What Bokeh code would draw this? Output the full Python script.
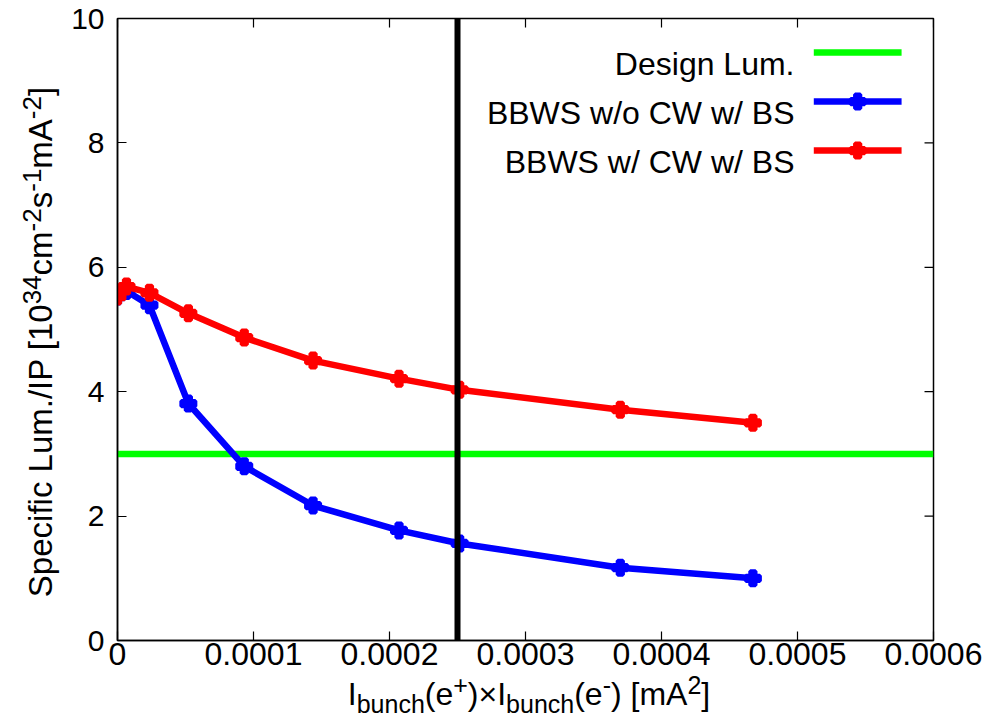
import html as _html
from bokeh.plotting import figure
from bokeh.models import Range1d, LinearAxis, FixedTicker, Span, Label, Div
from bokeh.layouts import row, column
from bokeh.embed import file_html
from bokeh.resources import INLINE

# ---------------- data ----------------
x_bunch = [0.0, 0.0000066, 0.0000235, 0.0000521, 0.0000932, 0.0001438,
           0.000207, 0.0002516, 0.0003697, 0.0004672]
lum_wo_cw = [5.53, 5.62, 5.39, 3.81, 2.80, 2.17, 1.77, 1.56, 1.17, 1.00]
lum_w_cw = [5.53, 5.69, 5.59, 5.26, 4.87, 4.50, 4.21, 4.03, 3.71, 3.50]
design_lum = 3.0
vline_x = 0.00025

x_ticks = [0.0, 0.0001, 0.0002, 0.0003, 0.0004, 0.0005, 0.0006]
x_tick_labels = ["0", "0.0001", "0.0002", "0.0003", "0.0004", "0.0005", "0.0006"]
y_ticks = [0, 2, 4, 6, 8, 10]
legend_labels = ["Design Lum.", "BBWS w/o CW w/ BS", "BBWS w/ CW w/ BS"]
legend_colors = ["#00ff00", "#0000ff", "#ff0000"]
legend_markers = [False, True, True]

xlabel_runs = [("I", "n"), ("bunch", "sub"), ("(e", "n"), ("+", "sup"),
               (")\u00d7I", "n"), ("bunch", "sub"), ("(e", "n"), ("-", "sup"),
               (") [mA", "n"), ("2", "sup"), ("]", "n")]
ylabel_runs = [("Specific Lum./IP [10", "n"), ("34", "sup"), ("cm", "n"),
               ("-2", "sup"), ("s", "n"), ("-1", "sup"), ("mA", "n"),
               ("-2", "sup"), ("]", "n")]

FONT = "Liberation Sans"
X0, X1, Y0, Y1 = 0.0, 0.0006, 0.0, 10.0
FW, FH = 818, 622
YDIV_W = 58
P_W, P_H = 918, 682
XDIV_H = 30

p = figure(width=P_W, height=P_H, output_backend="svg",
           toolbar_location=None, x_range=Range1d(X0, X1),
           y_range=Range1d(Y0, Y1), x_axis_location=None, y_axis_location=None,
           min_border_left=47, min_border_right=53, min_border_top=18,
           min_border_bottom=42)
p.xgrid.visible = False
p.ygrid.visible = False
p.outline_line_color = "black"
p.outline_line_width = 1.5
p.background_fill_color = "white"
p.border_fill_color = "white"


def style_axis(ax, ticks, size, standoff):
    ax.ticker = FixedTicker(ticks=ticks)
    ax.major_tick_in = 9
    ax.major_tick_out = 0
    ax.minor_tick_in = 0
    ax.minor_tick_out = 0
    ax.axis_line_color = "black"
    ax.axis_line_width = 1.5
    ax.major_tick_line_color = "black"
    ax.major_tick_line_width = 1.2
    ax.major_label_text_font = FONT
    ax.major_label_text_font_size = size
    ax.major_label_text_color = "black"
    ax.major_label_standoff = standoff


xb = LinearAxis()
style_axis(xb, x_ticks, "32px", 2)
xb.major_label_overrides = {t: l for t, l in zip(x_ticks, x_tick_labels)}
p.add_layout(xb, "below")
yl = LinearAxis()
style_axis(yl, y_ticks, "30px", 13)
p.add_layout(yl, "left")

# mirrored inward ticks on top and right edges (9 px long)
tick_dy = 9 / FH * (Y1 - Y0)
tick_dx = 9 / FW * (X1 - X0)
p.segment(x0=x_ticks, y0=[Y1] * len(x_ticks), x1=x_ticks,
          y1=[Y1 - tick_dy] * len(x_ticks), line_color="black", line_width=1.2)
p.segment(x0=[X1] * len(y_ticks), y0=y_ticks, x1=[X1 - tick_dx] * len(y_ticks),
          y1=y_ticks, line_color="black", line_width=1.2)

# ---------------- marks ----------------
p.line([X0, X1], [design_lum, design_lum], line_color="#00ff00", line_width=6.5)
p.add_layout(Span(location=vline_x, dimension="height", line_color="black",
                  line_width=6))
p.line(x_bunch, lum_wo_cw, line_color="#0000ff", line_width=6.5)
p.scatter(x_bunch, lum_wo_cw, marker="plus", size=14, line_color="#0000ff",
          fill_color="#0000ff", line_width=4)
p.line(x_bunch, lum_w_cw, line_color="#ff0000", line_width=6.5)
p.scatter(x_bunch, lum_w_cw, marker="plus", size=14, line_color="#ff0000",
          fill_color="#ff0000", line_width=4)

# ---------------- legend (key on the right of its text) ----------------
def fx(px):
    return X0 + px / FW * (X1 - X0)


def fy(py_from_top):
    return Y1 - py_from_top / FH * (Y1 - Y0)


for i, (lab, col, mk) in enumerate(zip(legend_labels, legend_colors, legend_markers)):
    ry = 34 + 49 * i
    p.line([fx(698), fx(786)], [fy(ry), fy(ry)], line_color=col, line_width=6.5)
    if mk:
        p.scatter([fx(742)], [fy(ry)], marker="plus", size=14, line_color=col,
                  fill_color=col, line_width=4)
    p.add_layout(Label(x=677, y=FH - ry - 11, x_units="screen", y_units="screen",
                       text=lab, text_font=FONT, text_font_size="32px",
                       text_align="right", text_baseline="alphabetic",
                       text_color="black"))

# ---------------- axis titles (HTML, with sub/superscripts) ----------------
def runs_html(runs, sub_px, sub_drop):
    out = []
    for t, k in runs:
        t = _html.escape(t)
        if k == "n":
            out.append(t)
        elif k == "sup":
            out.append(f'<span style="position:relative;top:-11px;font-size:{sub_px}px;">{t}</span>')
        else:
            out.append(f'<span style="position:relative;top:{sub_drop}px;font-size:{sub_px}px;">{t}</span>')
    return "".join(out)


def txt_style(px):
    return (f"font-family:'{FONT}';font-size:{px}px;line-height:30px;color:black;"
            "white-space:nowrap;")


VIS = [":host { overflow: visible !important; } div { overflow: visible !important; }"]

frame_cx = 47 + FW / 2          # frame centre inside the plot canvas
xdiv = Div(width=P_W, height=XDIV_H, styles={"overflow": "visible"}, stylesheets=VIS,
           text=(f'<div style="position:relative;width:{P_W}px;height:{XDIV_H}px;">'
                 f'<div style="position:absolute;left:{frame_cx}px;top:-8px;'
                 f'transform:translateX(-50%);{txt_style(32)}">'
                 f'{runs_html(xlabel_runs, 25, 8)}</div></div>'))

ydiv_h = P_H + XDIV_H
ydiv = Div(width=YDIV_W, height=ydiv_h, styles={"overflow": "visible"}, stylesheets=VIS,
           text=(f'<div style="position:relative;width:{YDIV_W}px;height:{ydiv_h}px;">'
                 f'<div style="position:absolute;left:21px;top:337px;'
                 f'transform-origin:0 0;transform:rotate(-90deg) translateX(-50%);'
                 f'{txt_style(33)}">{runs_html(ylabel_runs, 26, 10)}</div></div>'))

layout = row(ydiv, column(p, xdiv))
open("out.html", "w").write(file_html(layout, INLINE))
